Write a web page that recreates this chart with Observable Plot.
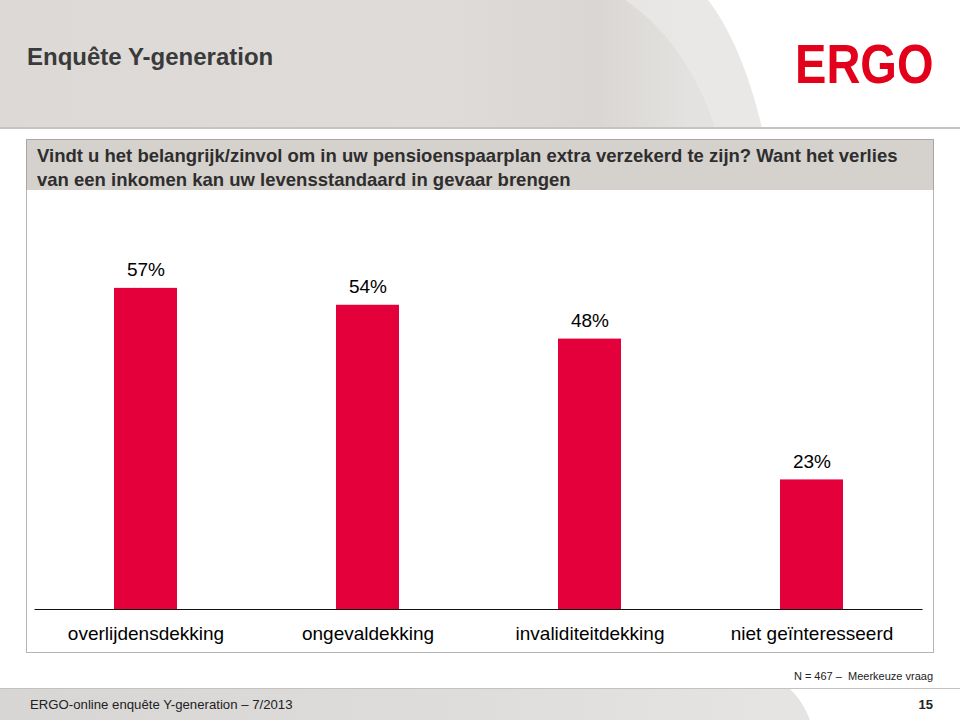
<!DOCTYPE html>
<html>
<head>
<meta charset="utf-8">
<script src="https://cdn.jsdelivr.net/npm/d3@7"></script>
<script src="https://cdn.jsdelivr.net/npm/@observablehq/plot@0.6"></script>
<style>
  html, body { margin: 0; padding: 0; background: #fff; }
  #page { position: relative; width: 960px; height: 720px; overflow: hidden; font-family: "Liberation Sans", Arial, sans-serif; background: #fff; }
  #header { position: absolute; left: 0; top: 0; width: 960px; height: 128px;
    background: linear-gradient(90deg, #dcd9d6 0%, #dedbd8 45%, #d9d6d3 62%, #e4e2e0 72%); }
  #headerline { position: absolute; left: 0; top: 127px; width: 960px; height: 2px; background: #c6c4c2; }
  #title { position: absolute; left: 27px; top: 43px; font-size: 24px; font-weight: bold; color: #3a3a3a; }
  #logo { position: absolute; left: 795px; top: 32px; font-size: 56px; font-weight: bold; color: #e2001a; line-height: 64px; transform: scaleX(0.84); transform-origin: 0 0; white-space: nowrap; }
  #qbox { position: absolute; left: 26px; top: 139px; width: 906px; height: 50px; background: #d5d1cd; border: 1px solid #a9a6a3; }
  #qtext { position: absolute; left: 10px; top: 4px; font-size: 18.5px; font-weight: bold; color: #2e2e2e; line-height: 24px; white-space: nowrap; }
  #cbox { position: absolute; left: 26px; top: 190px; width: 906px; height: 462px; border: 1px solid #b5b5b5; border-top: none; background: #fff; }
  #chart { position: absolute; left: 0; top: 190px; }
  #note { position: absolute; right: 27px; top: 670px; font-size: 11px; color: #222; }
  #footer { position: absolute; left: 0; top: 688px; width: 960px; height: 32px;
    background: linear-gradient(90deg, #d8d6d5 0%, #dfdddc 50%, #e6e4e3 80%); border-top: 1px solid #c4c2c0; }
  #ftext { position: absolute; left: 30px; top: 697px; font-size: 13.2px; color: #222; }
  #pnum { position: absolute; right: 27px; top: 697px; font-size: 13px; font-weight: bold; color: #222; }
</style>
</head>
<body>
<div id="page">
  <div id="header"></div>
  <svg style="position:absolute;left:0;top:0" width="960" height="128">
    <path d="M625,0 C670,30 700,80 715,128 L960,128 L960,0 Z" fill="#ebe9e8" opacity="0.75"/>
    <path d="M708,0 C735,35 752,85 762,128 L960,128 L960,0 Z" fill="#ffffff"/>
  </svg>
  <div id="headerline"></div>
  <div id="title">Enquête Y-generation</div>
  <div id="logo">ERGO</div>
  <div id="qbox"><div id="qtext">Vindt u het belangrijk/zinvol om in uw pensioenspaarplan extra verzekerd te zijn? Want het verlies<br>van een inkomen kan uw levensstandaard in gevaar brengen</div></div>
  <div id="cbox"></div>
  <div id="chart"></div>
  <div id="note">N = 467 –&nbsp; Meerkeuze vraag</div>
  <div id="footer"></div>
  <svg style="position:absolute;left:0;top:689px" width="960" height="31">
    <path d="M790,0 C800,10 806,20 810,31 L960,31 L960,0 Z" fill="#ffffff"/>
  </svg>
  <div id="ftext">ERGO-online enquête Y-generation – 7/2013</div>
  <div id="pnum">15</div>
</div>
<script>
const categories = ["overlijdensdekking", "ongevaldekking", "invaliditeitdekking", "niet geïnteresseerd"];
const values = [57, 54, 48, 23];
const valueLabels = ["57%", "54%", "48%", "23%"];

const data = categories.map((c, i) => ({cat: c, value: values[i], label: valueLabels[i]}));

const chart = Plot.plot({
  width: 960,
  height: 463,
  marginLeft: 34.5,
  marginRight: 37.5,
  marginTop: 19,
  marginBottom: 44,
  style: {fontFamily: "Liberation Sans, Arial, sans-serif", fontSize: "19px", color: "#000", background: "transparent", overflow: "visible"},
  x: {domain: categories, paddingInner: 0.716, paddingOuter: 0.358, axis: null},
  y: {domain: [0, 71], axis: null},
  marks: [
    Plot.barY(data, {x: "cat", y: "value", fill: "#e4003b"}),
    Plot.ruleY([0], {stroke: "#111", strokeWidth: 1.2}),
    Plot.axisX({tickSize: 0, tickPadding: 17, fontSize: 19, label: null, fill: "#000"}),
    Plot.text(data, {x: "cat", y: "value", text: "label", dy: -18, fontSize: 19, fill: "#000"})
  ]
});
document.getElementById("chart").appendChild(chart);
</script>
</body>
</html>
